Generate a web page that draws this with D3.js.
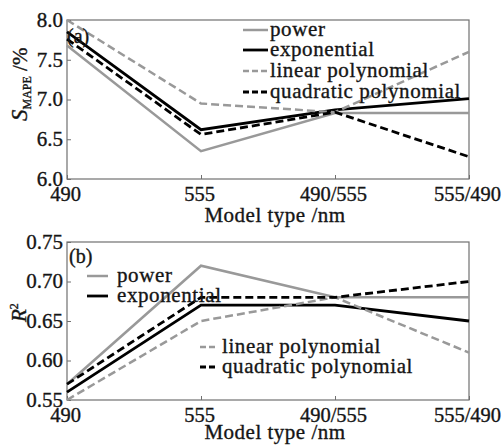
<!DOCTYPE html>
<html>
<head>
<meta charset="utf-8">
<script src="https://cdn.jsdelivr.net/npm/d3@7"></script>
<style>
  html, body { margin: 0; padding: 0; background: #fff; }
</style>
</head>
<body>
<svg id="chart" width="502" height="447"></svg>
<script>
// Model types along the x axis
const categories = ["490", "555", "490/555", "555/490"];

// Panel (a): S_MAPE (%)
const smapePower       = [7.68, 6.35, 6.83, 6.83];
const smapeExponential = [7.85, 6.62, 6.87, 7.01];
const smapeLinear      = [8.00, 6.95, 6.84, 7.60];
const smapeQuadratic   = [7.76, 6.56, 6.84, 6.28];
const smapeTicks = [6.0, 6.5, 7.0, 7.5, 8.0];

// Panel (b): R²
const r2Power       = [0.57, 0.72, 0.68, 0.68];
const r2Exponential = [0.56, 0.67, 0.67, 0.65];
const r2Linear      = [0.55, 0.65, 0.68, 0.61];
const r2Quadratic   = [0.57, 0.68, 0.68, 0.70];
const r2Ticks = [0.55, 0.60, 0.65, 0.70, 0.75];

const seriesNames = ["power", "exponential", "linear polynomial", "quadratic polynomial"];

const styles = {
  "power":                { color: "#999", width: 2.5, dash: null },
  "exponential":          { color: "#000", width: 2.8, dash: null },
  "linear polynomial":    { color: "#999", width: 2.5, dash: "8,4" },
  "quadratic polynomial": { color: "#000", width: 2.8, dash: "8,4" }
};

const FONT = "Liberation Serif";
const INK = "#151515";
const svg = d3.select("#chart")
  .attr("font-family", FONT);

// slightly heavier glyphs for every label
function ink(sel) {
  return sel.attr("fill", INK).attr("stroke", INK).attr("stroke-width", 0.35);
}

const left = 67, right = 469;
const x = d3.scalePoint().domain(categories).range([left, right]);

function drawPanel(cfg) {
  const g = svg.append("g");
  const y = d3.scaleLinear().domain(cfg.domain).range([cfg.bottom, cfg.top]);

  // frame
  g.append("rect")
    .attr("x", left).attr("y", cfg.top)
    .attr("width", right - left).attr("height", cfg.bottom - cfg.top)
    .attr("fill", "none").attr("stroke", "#707070").attr("stroke-width", 1.2);

  // bottom axis, ticks pointing inward
  const xAxis = g.append("g")
    .attr("transform", `translate(-2,${cfg.bottom})`)
    .call(d3.axisBottom(x).tickSize(-4).tickPadding(10));
  xAxis.attr("font-family", FONT).attr("font-size", 20.5);
  xAxis.select(".domain").remove();
  xAxis.selectAll(".tick line").attr("stroke", "#707070").attr("transform", "translate(2,0)");
  ink(xAxis.selectAll("text")).attr("dy", "0.62em").attr("y", 9);

  // left axis, ticks pointing inward
  const yAxis = g.append("g")
    .attr("transform", `translate(${left},0)`)
    .call(d3.axisLeft(y).tickValues(cfg.ticks).tickFormat(d3.format(cfg.fmt)).tickSize(-4).tickPadding(5));
  yAxis.attr("font-family", FONT).attr("font-size", 21);
  yAxis.select(".domain").remove();
  yAxis.selectAll(".tick line").attr("stroke", "#707070");
  ink(yAxis.selectAll("text")).attr("x", -4).attr("dy", "0.3em");

  // x title
  ink(g.append("text"))
    .attr("x", (left + right) / 2 + 7).attr("y", cfg.titleY)
    .attr("text-anchor", "middle").attr("font-size", 21).attr("letter-spacing", 0.5)
    .text("Model type /nm");

  // series lines
  const line = d3.line().x((d, i) => x(categories[i])).y(d => y(d));
  cfg.series.forEach((vals, k) => {
    const st = styles[seriesNames[k]];
    g.append("path")
      .datum(vals)
      .attr("d", line)
      .attr("fill", "none")
      .attr("stroke", st.color)
      .attr("stroke-width", st.width)
      .attr("stroke-dasharray", st.dash);
  });

  // panel tag
  ink(g.append("text"))
    .attr("x", cfg.tag.x).attr("y", cfg.tag.y)
    .attr("font-size", 20).text(cfg.tag.label);

  // legend entries
  cfg.legend.forEach(ent => {
    const st = styles[ent.name];
    g.append("line")
      .attr("x1", ent.x).attr("x2", ent.x + ent.len)
      .attr("y1", ent.y - 6).attr("y2", ent.y - 6)
      .attr("stroke", st.color).attr("stroke-width", st.width)
      .attr("stroke-dasharray", st.dash ? "6,3" : null);
    ink(g.append("text"))
      .attr("x", ent.x + ent.len + ent.gap).attr("y", ent.y)
      .attr("font-size", 21).attr("letter-spacing", 0.6)
      .text(ent.name);
  });

  return g;
}

// Panel (a)
drawPanel({
  top: 20, bottom: 179, titleY: 222,
  domain: [6.0, 8.0], ticks: smapeTicks, fmt: ".1f",
  series: [smapePower, smapeExponential, smapeLinear, smapeQuadratic],
  tag: { x: 67, y: 43, label: "(a)" },
  legend: [
    { name: "power",                x: 243, len: 25, gap: 2, y: 36 },
    { name: "exponential",          x: 243, len: 25, gap: 2, y: 56 },
    { name: "linear polynomial",    x: 243, len: 25, gap: 2, y: 77 },
    { name: "quadratic polynomial", x: 243, len: 25, gap: 2, y: 98 }
  ]
});

// y title (a): S with MAPE subscript, then /%
ink(svg.append("text"))
  .attr("transform", "translate(27,121) rotate(-90)")
  .attr("font-size", 21)
  .call(t => {
    t.append("tspan").attr("font-style", "italic").attr("font-size", 23).text("S");
    t.append("tspan").attr("font-size", 12).attr("dy", 4).text("MAPE");
    t.append("tspan").attr("dy", -4).text(" /%");
  });

// Panel (b)
drawPanel({
  top: 242, bottom: 400, titleY: 439,
  domain: [0.55, 0.75], ticks: r2Ticks, fmt: ".2f",
  series: [r2Power, r2Exponential, r2Linear, r2Quadratic],
  tag: { x: 69, y: 263, label: "(b)" },
  legend: [
    { name: "power",                x: 87,  len: 21, gap: 9, y: 282 },
    { name: "exponential",          x: 87,  len: 21, gap: 9, y: 302 },
    { name: "linear polynomial",    x: 200, len: 18, gap: 4, y: 353 },
    { name: "quadratic polynomial", x: 200, len: 18, gap: 4, y: 373 }
  ]
});

// y title (b): R²
ink(svg.append("text"))
  .attr("transform", "translate(26,322) rotate(-90)")
  .attr("font-size", 21)
  .call(t => {
    t.append("tspan").attr("font-style", "italic").text("R");
    t.append("tspan").attr("font-size", 12).attr("dy", -8).text("2");
  });
</script>
</body>
</html>
